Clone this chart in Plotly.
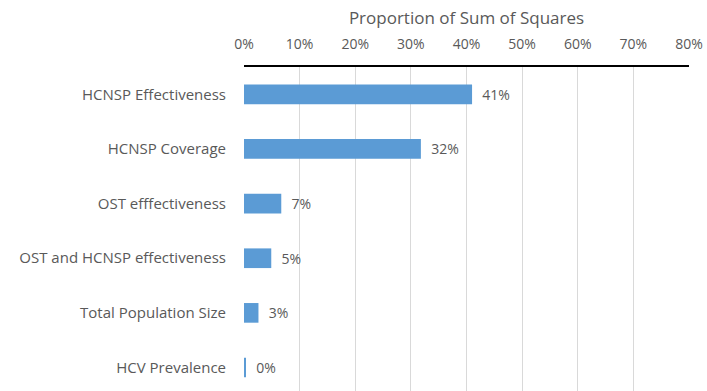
import plotly.graph_objects as go

factors = [
    "HCNSP Effectiveness",
    "HCNSP Coverage",
    "OST efffectiveness",
    "OST and HCNSP effectiveness",
    "Total Population Size",
    "HCV Prevalence",
]
proportions = [0.41, 0.318, 0.067, 0.049, 0.026, 0.002]
x_ticks = [0, 0.1, 0.2, 0.3, 0.4, 0.5, 0.6, 0.7, 0.8]

FONT = "Open Sans, sans-serif"
GREY = "#595959"

fig = go.Figure(
    go.Bar(
        x=proportions,
        y=factors,
        orientation="h",
        width=0.36,
        marker=dict(color="#5B9BD5", line=dict(width=0)),
        texttemplate="  %{x:.0%}",
        textposition="outside",
        textfont=dict(family=FONT, size=14, color=GREY),
        cliponaxis=False,
    )
)

fig.update_layout(
    width=707,
    height=391,
    margin=dict(l=244, r=18, t=67, b=0),
    paper_bgcolor="white",
    plot_bgcolor="white",
    showlegend=False,
    font=dict(family=FONT, size=14, color=GREY),
    xaxis=dict(
        side="top",
        range=[0, 0.8],
        tickvals=x_ticks,
        tickformat=".0%",
        showgrid=True,
        gridcolor="#D9D9D9",
        gridwidth=1,
        zeroline=False,
        showline=True,
        linecolor="black",
        linewidth=1.5,
        ticks="",
        ticklabelstandoff=11,
        tickfont=dict(family=FONT, size=14, color=GREY),
        title=dict(
            text="Proportion of Sum of Squares",
            font=dict(family=FONT, size=17, color=GREY),
            standoff=5,
        ),
    ),
    yaxis=dict(
        type="category",
        categoryorder="array",
        categoryarray=factors,
        range=[5.43, -0.5],
        showgrid=False,
        zeroline=False,
        showline=False,
        ticks="",
        ticklabelstandoff=17,
        tickfont=dict(family=FONT, size=15, color=GREY),
    ),
)

fig.write_html("out.html")
